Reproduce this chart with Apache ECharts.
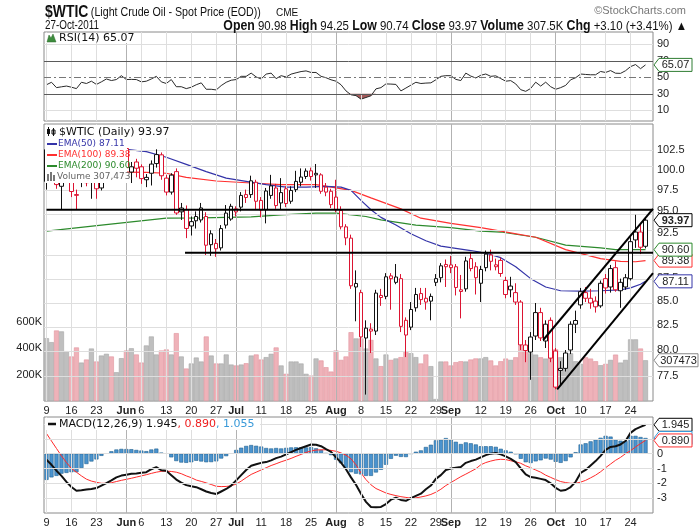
<!DOCTYPE html>
<html>
<head>
<meta charset="utf-8">
<script src="https://cdn.jsdelivr.net/npm/echarts@6/dist/echarts.min.js"></script>
<style>
  html, body { margin: 0; padding: 0; background: #fff; }
  #chart { width: 700px; height: 530px; }
</style>
</head>
<body>
<div id="chart"></div>
<script>
// trading days on the chart (2011), month index -> day numbers
const tradingDays = [
  [4, [9,10,11,12,13,16,17,18,19,20,23,24,25,26,27,31]],
  [5, [1,2,3,6,7,8,9,10,13,14,15,16,17,20,21,22,23,24,27,28,29,30]],
  [6, [1,5,6,7,8,11,12,13,14,15,18,19,20,21,22,25,26,27,28,29]],
  [7, [1,2,3,4,5,8,9,10,11,12,15,16,17,18,19,22,23,24,25,26,29,30,31]],
  [8, [1,2,6,7,8,9,12,13,14,15,16,19,20,21,22,23,26,27,28,29,30]],
  [9, [3,4,5,6,7,10,11,12,13,14,17,18,19,20,21,24,25,26,27]]
];
const monthNames = ['Jan','Feb','Mar','Apr','May','Jun','Jul','Aug','Sep','Oct','Nov','Dec'];

const prevClose0 = 97.18; // close before the first day shown

const open = [98.6,102.6,103.6,98.0,99.0,99.3,97.0,98.6,100.1,98.5,
  99.3,97.8,99.6,101.3,100.2,100.8,102.7,99.75,101.0,100.4,
  98.8,99.6,100.8,101.9,99.0,97.3,99.8,95.4,95.2,93.3,
  93.9,94.0,94.4,92.4,91.3,90.8,93.4,94.1,95.3,95.5,
  97.0,97.0,98.5,96.3,95.2,96.9,97.8,96.0,97.7,96.2,
  97.6,98.5,99.2,99.9,99.4,99.4,97.9,97.4,96.7,95.1,
  93.2,91.9,86.5,85.9,81.2,81.9,81.9,85.6,85.5,87.7,
  87.0,87.4,83.0,82.3,84.3,85.8,85.3,85.0,87.0,87.5,
  88.95,88.9,88.7,86.2,86.3,89.6,88.7,86.9,88.6,90.0,
  88.7,89.4,87.2,86.2,85.9,84.9,80.5,79.8,81.4,83.8,
  80.9,83.0,79.9,78.0,78.2,80.0,82.6,84.6,85.9,85.3,
  85.0,84.5,87.4,86.5,88.6,86.1,86.5,87.4,91.7,92.6,
  90.98];
const high = [103.2,104.6,104.0,99.8,100.5,99.6,97.6,100.5,100.4,100.0,
  99.6,100.0,101.6,101.6,101.1,103.0,103.4,101.0,101.4,100.7,
  99.5,101.2,102.6,102.2,99.4,99.6,100.2,96.0,95.7,94.4,
  95.0,96.0,94.9,92.8,91.8,93.4,95.75,95.9,95.6,97.3,
  97.6,99.3,98.8,96.7,97.8,99.4,98.3,99.0,98.0,98.0,
  99.9,100.2,100.2,100.3,100.75,99.6,98.4,97.7,98.8,95.6,
  93.5,92.3,88.3,86.2,83.0,82.7,86.2,86.3,88.0,88.0,
  89.0,87.9,83.3,84.9,86.4,86.4,86.4,85.8,87.9,89.1,
  89.5,89.9,89.0,87.8,89.8,90.2,89.2,88.8,90.5,90.6,
  89.6,89.7,87.6,87.6,86.9,85.1,81.0,81.8,84.8,84.3,
  83.0,83.3,80.2,78.9,80.0,82.9,84.0,86.4,86.5,86.3,
  85.5,87.2,87.9,88.9,89.3,87.4,87.9,92.0,94.6,93.6,
  94.25];
const low = [97.6,101.5,97.7,95.2,98.6,96.7,95.2,97.9,98.0,96.5,
  96.5,97.5,98.4,99.4,99.7,100.5,100.1,98.4,99.1,98.3,
  97.9,98.1,100.3,98.8,96.9,97.0,94.6,94.0,91.9,92.2,
  93.0,93.7,90.0,89.9,89.8,90.5,93.0,93.9,94.4,95.0,
  96.0,96.6,95.2,94.3,93.6,96.5,95.3,95.2,95.5,95.9,
  97.3,98.0,98.9,98.7,97.8,97.1,96.8,95.4,94.9,92.9,
  91.1,86.3,82.9,80.3,75.7,79.7,81.5,84.5,85.2,84.1,
  86.8,81.8,79.3,82.0,83.9,84.6,84.1,83.0,86.6,87.0,
  86.5,88.0,85.6,83.2,86.0,88.2,85.7,84.9,88.2,88.3,
  88.3,87.6,85.3,85.4,84.6,80.0,78.8,77.1,81.0,80.9,
  80.2,78.8,76.2,76.5,77.9,79.6,81.7,84.2,84.9,84.2,
  83.8,84.3,85.8,85.9,86.0,84.3,86.2,87.2,90.8,90.1,
  90.74];
const close = [102.55,103.88,98.21,98.97,99.65,97.37,96.91,100.10,98.44,99.49,
  97.70,99.59,101.32,100.23,100.59,102.70,100.29,100.40,100.22,98.94,
  99.09,100.74,101.93,99.29,97.30,99.37,94.81,94.95,93.01,93.80,
  94.40,95.41,91.10,91.16,90.70,93.00,94.80,95.60,94.94,96.90,
  96.65,98.67,96.20,95.16,97.43,98.05,95.69,97.24,95.93,97.50,
  98.60,99.13,99.87,99.20,99.59,97.40,97.30,95.80,95.20,93.20,
  91.93,86.63,86.88,81.31,82.20,82.10,85.85,85.38,87.60,87.40,
  87.58,82.38,81.50,84.12,85.70,85.16,84.90,85.50,87.40,88.80,
  88.70,88.60,86.45,86.02,89.34,88.50,87.50,88.40,90.10,89.30,
  88.91,87.96,85.70,86.60,84.90,80.51,79.95,81.30,83.80,81.21,
  82.60,79.20,76.40,78.20,79.70,82.60,82.98,86.00,85.30,84.80,
  84.40,86.90,86.40,88.50,86.20,87.00,87.50,91.50,92.60,90.87,
  93.97];
// volume in thousands
const volumeK = [474,444,532,525,376,336,404,290,313,396,
  298,343,356,336,217,323,381,398,351,290,
  419,487,351,381,389,351,512,336,245,283,
  328,298,487,343,283,283,351,275,268,275,
  285,343,351,313,331,356,404,268,205,298,
  298,283,205,192,321,306,255,222,381,310,
  336,519,472,472,396,461,321,263,351,310,
  321,331,376,361,331,283,351,263,15,298,
  298,268,293,300,298,313,321,321,331,306,
  268,300,320,310,330,420,390,360,350,330,
  320,360,390,330,345,360,300,280,330,320,
  300,270,280,310,350,290,310,465,465,396,
  307.473];

// moving averages, read at sample days: [day index, price]
const ema50 = [[16,102.6],[20,102.3],[24,101.6],[28,100.7],[32,99.8],[36,99.0],[40,98.6],[44,98.2],[48,97.9],
  [52,97.9],[56,98.0],[59,97.9],[61,97.5],[63,96.3],[65,95.2],[67,94.3],[70,93.4],[73,92.4],[76,91.6],
  [79,91.0],[82,90.75],[85,90.5],[88,90.2],[91,89.7],[94,88.7],[97,87.4],[100,86.5],[103,86.1],
  [107,86.05],[111,86.1],[115,86.2],[117,86.4],[119,86.8],[120,87.11]];
const ema100 = [[16,99.75],[20,99.7],[24,99.6],[28,99.1],[34,98.65],[41,98.4],[47,98.2],[54,98.2],[58,97.8],
  [61,97.5],[65,96.6],[71,95.3],[75,94.2],[81,93.6],[87,93.1],[91,92.7],[98,92.0],[104,90.6],[111,89.6],
  [115,89.3],[118,89.25],[120,89.38]];
const ema200 = [[0,92.7],[11,93.4],[24,94.2],[31,94.25],[41,94.35],[47,94.6],[54,94.8],[58,94.8],[64,94.4],
  [67,94.0],[74,93.4],[81,93.1],[87,92.7],[91,92.6],[98,92.0],[104,91.1],[111,90.8],[114,90.6],[120,90.6]];

// drawn trend lines: [day index, price]
const supportHigh = [[0,95.2],[121.5,95.2]];
const supportLow = [[27.75,90.25],[121.5,90.25]];
const channelTop = [[99.5,81.0],[121.5,95.3]];
const channelBottom = [[102.3,76.2],[121.5,88.0]];

const rsi = [41,44,37.5,38.5,39.4,38,36.3,44,42.5,45.3,
  41.4,44.5,48,46.1,47.3,52,47.3,47.5,47.3,44.5,
  45.3,48,51.2,44.5,42.5,47.3,38.6,38.6,36.3,38,
  41,43.3,35.5,35.5,34.7,40,44,46.5,47.3,51.2,
  51.2,55.1,50.5,48,53.9,55.1,48.4,52,50.4,53.9,
  55.5,57,57.8,55.9,55.9,51.2,49.5,47,45.3,41,
  33.5,28.8,27.8,23.5,25.5,27.6,36,37.5,42,41.8,
  41.4,33.5,37,40.5,44,42.5,43,43.3,47,51.2,
  52,52,47.5,46.1,55.1,51.5,49.2,52.5,54,51.2,
  51.8,48.5,45.3,46,42,35,33,36.5,44.1,39.4,
  44.1,38.6,35.5,37.5,40.2,47,49.5,54,53.5,53.1,
  53.1,57.1,55.9,58.2,55,54.8,58,63,65.5,60.5,
  65.07];
const macd = [-0.41,-0.75,-1.15,-1.5,-1.9,-2.25,-2.5,-2.47,-2.42,-2.38,
  -2.32,-2.15,-1.98,-1.8,-1.6,-1.48,-1.42,-1.36,-1.33,-1.29,
  -1.25,-1.05,-0.91,-1.12,-1.16,-1.45,-1.75,-1.95,-2.12,-2.2,
  -2.26,-2.4,-2.55,-2.65,-2.72,-2.55,-2.38,-2.15,-1.8,-1.45,
  -1.1,-0.82,-0.72,-0.62,-0.57,-0.45,-0.3,-0.2,-0.05,0.1,
  0.25,0.38,0.5,0.62,0.6,0.5,0.3,0.12,-0.25,-0.6,
  -1.05,-1.6,-2.1,-2.7,-3.25,-3.6,-3.62,-3.59,-3.4,-3.1,
  -2.97,-3.12,-3.18,-3.0,-2.85,-2.7,-2.4,-2.15,-1.7,-1.45,
  -1.1,-1.0,-0.95,-0.9,-0.62,-0.5,-0.4,-0.25,-0.1,0.0,
  0.04,-0.05,-0.18,-0.35,-0.57,-1.0,-1.4,-1.58,-1.62,-1.7,
  -1.78,-2.0,-2.3,-2.5,-2.45,-2.25,-1.9,-1.3,-1.1,-0.8,
  -0.5,-0.15,0.25,0.45,0.5,0.62,0.85,1.4,1.65,1.8,
  1.945];
const signal = [1.36,0.85,0.35,-0.15,-0.6,-1.0,-1.25,-1.5,-1.72,-1.85,
  -1.93,-2.0,-2.0,-1.96,-1.88,-1.8,-1.73,-1.66,-1.58,-1.5,
  -1.42,-1.33,-1.25,-1.19,-1.18,-1.2,-1.25,-1.35,-1.5,-1.62,
  -1.78,-1.87,-1.97,-2.08,-2.2,-2.22,-2.21,-2.17,-2.05,-1.85,
  -1.62,-1.4,-1.25,-1.1,-0.95,-0.8,-0.68,-0.55,-0.44,-0.32,
  -0.18,-0.05,0.08,0.18,0.24,0.26,0.26,0.22,0.16,0.05,
  -0.1,-0.35,-0.75,-1.3,-1.75,-2.1,-2.35,-2.5,-2.65,-2.75,
  -2.83,-2.9,-2.95,-3.0,-2.98,-2.92,-2.85,-2.75,-2.6,-2.4,
  -2.15,-1.95,-1.75,-1.55,-1.38,-1.2,-1.02,-0.75,-0.6,-0.5,
  -0.42,-0.38,-0.4,-0.48,-0.55,-0.65,-0.82,-0.95,-1.1,-1.25,
  -1.45,-1.6,-1.75,-1.88,-1.95,-2.0,-2.0,-1.92,-1.8,-1.63,
  -1.45,-1.22,-0.95,-0.7,-0.45,-0.25,0.0,0.2,0.45,0.68,
  0.89];
const hist = [-1.77,-1.6,-1.5,-1.35,-1.3,-1.25,-1.25,-0.97,-0.7,-0.53,
  -0.39,-0.15,0.02,0.16,0.28,0.32,0.31,0.30,0.25,0.21,
  0.17,0.28,0.34,0.07,0.02,-0.25,-0.5,-0.6,-0.62,-0.58,
  -0.48,-0.53,-0.58,-0.57,-0.52,-0.33,-0.17,0.02,0.25,0.4,
  0.52,0.58,0.53,0.48,0.38,0.35,0.38,0.35,0.39,0.42,
  0.43,0.43,0.42,0.44,0.36,0.24,0.04,-0.1,-0.41,-0.65,
  -0.95,-1.25,-1.35,-1.4,-1.5,-1.5,-1.27,-1.09,-0.75,-0.35,
  -0.14,-0.22,-0.23,0,0.13,0.22,0.45,0.6,0.9,0.95,
  1.05,0.95,0.8,0.65,0.76,0.7,0.62,0.5,0.5,0.5,
  0.46,0.33,0.22,0.13,-0.02,-0.35,-0.58,-0.63,-0.52,-0.45,
  -0.33,-0.4,-0.55,-0.62,-0.5,-0.25,0.1,0.62,0.7,0.83,
  0.95,1.07,1.2,1.15,0.95,0.87,0.85,1.2,1.2,1.12,
  1.055];

const priceTicks = [77.5,80,82.5,85,87.5,90,92.5,95,97.5,100,102.5];
const rsiTicks = [10,30,50,70,90];
const volTicks = [200000,400000,600000];

// ---------- build ----------
const days = [];
tradingDays.forEach(([m, list]) => list.forEach((d, k) => {
  days.push({ m, d, monday: new Date(2011, m, d).getDay() === 1, first: k === 0 && days.length > 0 });
}));
const categories = days.map(o => '2011-' + (o.m + 1) + '-' + o.d).concat(['']);
const labelIdx = [];
days.forEach((o, i) => { if (o.monday || o.first) labelIdx.push(i); });
const labelSet = new Set(labelIdx);

const ln = Math.log;
const RED = '#dc1432';
const BLK = '#111';
const GRID_LIGHT = '#dedede';
const GRID_MONTH = '#b2b2b2';
const AXF = 'Liberation Sans';
const LGF = 'DejaVu Sans';

const isDown = i => close[i] < (i ? close[i - 1] : prevClose0);

const candleData = close.map((c, i) => {
  const col = isDown(i) ? RED : BLK;
  return {
    value: [ln(open[i]), ln(c), ln(low[i]), ln(high[i])],
    itemStyle: { color: '#fff', color0: col, borderColor: col, borderColor0: col, borderWidth: 1 }
  };
});
const volData = volumeK.map((v, i) => ({
  value: v * 1000,
  itemStyle: isDown(i)
    ? { color: '#efb2b9', borderColor: '#e0949e', borderWidth: 0.6 }
    : { color: '#bfbfbf', borderColor: '#a6a6a6', borderWidth: 0.6 }
}));

const vLines = labelIdx.map(i => ({ xAxis: i, lineStyle: { color: days[i].first ? GRID_MONTH : GRID_LIGHT, width: 1, type: 'solid' } }));
const hLine = (v, color, type) => ({ yAxis: v, lineStyle: { color, width: 1, type: type || 'solid' } });
const gridLines = (xi, yi, extra) => ({
  type: 'line', xAxisIndex: xi, yAxisIndex: yi, data: [], z: 1, silent: true,
  markLine: { silent: true, symbol: ['none', 'none'], label: { show: false }, animation: false,
    emphasis: { disabled: true }, data: vLines.concat(extra) }
});

const catAxis = (gridIndex, showLabel) => ({
  type: 'category', gridIndex, data: categories, boundaryGap: true,
  axisLine: { show: false }, axisTick: { show: false }, splitLine: { show: false },
  axisLabel: {
    show: showLabel, margin: 4, fontFamily: AXF, fontSize: 11, color: '#222',
    interval: i => labelSet.has(i),
    formatter: (v, i) => { const o = days[i]; if (!o) return ''; return o.first ? '{m|' + monthNames[o.m] + '}' : String(o.d); },
    rich: { m: { fontWeight: 'bold', fontFamily: AXF, fontSize: 11, color: '#222' } }
  }
});

const lineSeries = (name, xi, yi, data, color, width, z) => ({
  name, type: 'line', xAxisIndex: xi, yAxisIndex: yi, data, symbol: 'none', z: z || 3,
  lineStyle: { color, width }, silent: true
});

const GL = 44, GW = 609;
const option = {
  animation: false,
  backgroundColor: '#fff',
  grid: [
    { left: GL, width: GW, top: 32, height: 89, show: true, borderColor: '#8a8a8a', borderWidth: 1 },
    { left: GL, width: GW, top: 124, height: 277, show: true, borderColor: '#8a8a8a', borderWidth: 1 },
    { left: GL, width: GW, top: 417, height: 96, show: true, borderColor: '#8a8a8a', borderWidth: 1 }
  ],
  xAxis: [
    catAxis(0, false),
    catAxis(1, true),
    catAxis(2, true),
    { type: 'value', gridIndex: 1, min: -0.5, max: 121.5, show: false }
  ],
  yAxis: [
    { type: 'value', gridIndex: 0, position: 'right', min: -3, max: 105,
      axisLine: { show: false }, axisTick: { show: false, customValues: rsiTicks }, splitLine: { show: false },
      axisLabel: { customValues: rsiTicks, margin: 4, fontFamily: AXF, fontSize: 11, color: '#222' } },
    { type: 'value', gridIndex: 1, position: 'right', min: ln(75.1), max: ln(105.87),
      axisLine: { show: false }, axisTick: { show: false, customValues: priceTicks.map(ln) }, splitLine: { show: false },
      axisLabel: { customValues: priceTicks.map(ln), margin: 4, fontFamily: AXF, fontSize: 11, color: '#222',
        formatter: v => Math.exp(v).toFixed(1) } },
    { type: 'value', gridIndex: 1, position: 'left', min: 0, max: 2090000,
      axisLine: { show: false }, axisTick: { show: false, customValues: volTicks }, splitLine: { show: false },
      axisLabel: { customValues: volTicks, margin: 2, fontFamily: AXF, fontSize: 11, color: '#222',
        formatter: v => (v / 1000) + 'K' } },
    { type: 'value', gridIndex: 2, position: 'right', min: -4, max: 2.47, interval: 1,
      axisLine: { show: false }, axisTick: { show: false }, splitLine: { show: false },
      axisLabel: { margin: 4, fontFamily: AXF, fontSize: 11, color: '#222',
        formatter: v => (v > 0.01 || v < -3.5 ? '' : String(Math.round(v))) } }
  ],
  series: [
    gridLines(0, 0, [hLine(10, GRID_LIGHT), hLine(90, GRID_LIGHT), hLine(70, '#5a5a5a'), hLine(30, '#5a5a5a'),
      hLine(50, '#777', [7, 3, 2, 3])]),
    gridLines(1, 1, priceTicks.map(p => hLine(ln(p), GRID_LIGHT))),
    gridLines(2, 3, [-3, -2, -1, 0, 1, 2].map(v => hLine(v, GRID_LIGHT))),

    // RSI
    { type: 'line', xAxisIndex: 0, yAxisIndex: 0, stack: 'low', data: rsi.map(v => Math.min(v, 30)),
      symbol: 'none', lineStyle: { width: 0, opacity: 0 }, silent: true, z: 2 },
    { type: 'line', xAxisIndex: 0, yAxisIndex: 0, stack: 'low', data: rsi.map(v => 30 - Math.min(v, 30)),
      symbol: 'none', lineStyle: { width: 0, opacity: 0 }, areaStyle: { color: '#a45a5a', opacity: 1 }, silent: true, z: 2 },
    lineSeries('RSI', 0, 0, rsi, '#2a2a2a', 1, 3),

    // volume + price
    { type: 'bar', xAxisIndex: 1, yAxisIndex: 2, data: volData, barCategoryGap: '0%', silent: true, z: 2 },
    lineSeries('EMA200', 1, 1, ema200.map(p => [p[0], ln(p[1])]), '#2c8a2c', 1.2, 3),
    lineSeries('EMA100', 1, 1, ema100.map(p => [p[0], ln(p[1])]), '#ff3030', 1.2, 3),
    lineSeries('EMA50', 1, 1, ema50.map(p => [p[0], ln(p[1])]), '#3434a8', 1.2, 3),
    { type: 'candlestick', xAxisIndex: 1, yAxisIndex: 1, data: candleData, barWidth: 4, silent: true, z: 5 },
    lineSeries('s1', 3, 1, supportHigh.map(p => [p[0], ln(p[1])]), '#000', 2, 6),
    lineSeries('s2', 3, 1, supportLow.map(p => [p[0], ln(p[1])]), '#000', 2, 6),
    lineSeries('c1', 3, 1, channelTop.map(p => [p[0], ln(p[1])]), '#000', 2, 6),
    lineSeries('c2', 3, 1, channelBottom.map(p => [p[0], ln(p[1])]), '#000', 2, 6),

    // MACD
    { type: 'bar', xAxisIndex: 2, yAxisIndex: 3, data: hist, barCategoryGap: '18%', silent: true, z: 2,
      itemStyle: { color: '#4a93cf', borderColor: '#22618f', borderWidth: 0.6 } },
    lineSeries('signal', 2, 3, signal, '#ff2a2a', 1, 3),
    lineSeries('macd', 2, 3, macd, '#111', 2, 4)
  ]
};

const chart = echarts.init(document.getElementById('chart'));
chart.setOption(option);

// ---------- texts, legends, value tags ----------
const txt = (x, y, text, o) => ({
  type: 'text', z: 60, silent: true,
  style: Object.assign({ x, y, text, fill: '#111', fontFamily: LGF, fontSize: 11,
    align: 'left', verticalAlign: 'middle', textAlign: 'left', textVerticalAlign: 'middle' }, o || {})
});
// narrow text: drawn at the element origin and squeezed horizontally
const ntxt = (x, y, text, sx, o) => Object.assign(txt(0, 0, text, Object.assign({ fontFamily: AXF }, o || {})),
  { x, y, scaleX: sx, scaleY: 1 });
const rect = (x, y, w, h, fill, o) => ({ type: 'rect', z: 55, silent: true, shape: { x, y, width: w, height: h },
  style: Object.assign({ fill }, o || {}) });
const seg = (x1, y1, x2, y2, stroke, w) => ({ type: 'line', z: 60, silent: true,
  shape: { x1, y1, x2, y2 }, style: { stroke, lineWidth: w } });

const g = [];
// header
g.push(ntxt(45, 12, '{t|$WTIC} {n|(Light Crude Oil - Spot Price (EOD))}', 0.82, {
  rich: { t: { fontFamily: AXF, fontWeight: 'bold', fontSize: 17, fill: '#111' },
          n: { fontFamily: AXF, fontSize: 13, fill: '#111' } } }));
g.push(txt(276, 13, 'CME', { fontFamily: AXF, fontSize: 10 }));
g.push(txt(686, 11, '\u00A9StockCharts.com', { fontFamily: AXF, fontSize: 11, fill: '#777', align: 'right', textAlign: 'right' }));
g.push(ntxt(45, 26, '27-Oct-2011', 0.82, { fontSize: 12 }));
g.push(ntxt(687, 26, '{b|Open} 90.98 {b|High} 94.25 {b|Low} 90.74 {b|Close} 93.97 {b|Volume} 307.5K {b|Chg} +3.10 (+3.41%) \u25B2', 0.88,
  { fontSize: 13, align: 'right', textAlign: 'right',
    rich: { b: { fontFamily: AXF, fontSize: 14, fontWeight: 'bold', fill: '#111' } } }));

// RSI label
g.push(rect(45, 33, 96, 10, '#fff'));
g.push({ type: 'polygon', z: 60, silent: true, shape: { points: [[47, 42], [49, 35], [51, 38], [53, 34], [56, 42]] },
  style: { fill: '#3d8c3d', stroke: '#2d6a2d', lineWidth: 0.5 } });
g.push(txt(59, 38, 'RSI(14) 65.07', { fontSize: 11 }));

// price legend
g.push(rect(45, 125, 130, 13, '#fff'));
g.push(rect(45, 138, 82, 45, '#fff'));
g.push(seg(48.5, 127, 48.5, 136, '#111', 1));
g.push(rect(47, 129, 3, 5, '#111', { z: 61 }));
g.push(seg(53.5, 128, 53.5, 136, '#111', 1));
g.push(rect(52, 130, 3, 4, '#fff', { stroke: '#111', lineWidth: 1 }));
g.push(txt(59, 132, '$WTIC (Daily) 93.97', { fontSize: 11 }));
g.push(seg(47, 144, 57, 144, '#3434a8', 2));
g.push(txt(58, 144, 'EMA(50) 87.11', { fontSize: 9, fill: '#3434a8' }));
g.push(seg(47, 155, 57, 155, '#ff3030', 2));
g.push(txt(58, 155, 'EMA(100) 89.38', { fontSize: 9, fill: '#ff3030' }));
g.push(seg(47, 166, 57, 166, '#2c8a2c', 2));
g.push(txt(58, 166, 'EMA(200) 90.60', { fontSize: 9, fill: '#2c8a2c' }));
g.push(rect(47, 174, 2, 7, '#777'));
g.push(rect(50, 172, 2, 9, '#777'));
g.push(rect(53, 175, 2, 6, '#777'));
g.push(txt(57, 177, 'Volume 307,473', { fontSize: 9, fill: '#666' }));

// MACD label
g.push(rect(45, 418, 215, 12, '#fff'));
g.push(seg(48, 424, 56, 424, '#111', 2.5));
g.push(txt(59, 424, '{k|MACD(12,26,9) 1.945}{r|, 0.890}{c|, 1.055}', { fontSize: 11,
  rich: { k: { fill: '#111', fontFamily: LGF, fontSize: 11 }, r: { fill: '#ee2020', fontFamily: LGF, fontSize: 11 },
          c: { fill: '#3a9ad9', fontFamily: LGF, fontSize: 11 } } }));

// value tags at the right edge
const tags = [
  { axis: 0, v: 65.07, text: '65.07', color: '#2e7d32' },
  { axis: 2, v: 307473, text: '307473', color: '#888' },
  { axis: 1, v: ln(87.11), text: '87.11', color: '#3434a8' },
  { axis: 1, v: ln(89.38), text: '89.38', color: '#ff3030' },
  { axis: 1, v: ln(90.60), text: '90.60', color: '#2c8a2c' },
  { axis: 1, v: ln(93.97), text: '93.97', color: '#000', bold: true },
  { axis: 3, v: 1.945, text: '1.945', color: '#000' },
  { axis: 3, v: 1.055, text: '1.055', color: '#3a9ad9' },
  { axis: 3, v: 0.890, text: '0.890', color: '#ff3030' }
];
const x0 = GL + GW;
tags.forEach((t, k) => {
  const y = chart.convertToPixel({ yAxisIndex: t.axis }, t.v);
  const w = t.text.length * 6 + 3;
  g.push({ type: 'polygon', z: 70 + k, silent: true,
    shape: { points: [[x0 + 1, y], [x0 + 6, y - 6.5], [x0 + 6 + w, y - 6.5], [x0 + 6 + w, y + 6.5], [x0 + 6, y + 6.5]] },
    style: { fill: '#fff', stroke: t.color, lineWidth: 1 } });
  g.push(Object.assign(txt(x0 + 6 + w / 2, y + 0.5, t.text, { fontFamily: AXF, fontSize: 11, fontWeight: t.bold ? 'bold' : 'normal',
    fill: '#222', align: 'center', textAlign: 'center' }), { z: 70 + k }));
});

chart.setOption({ graphic: g });
</script>
</body>
</html>
